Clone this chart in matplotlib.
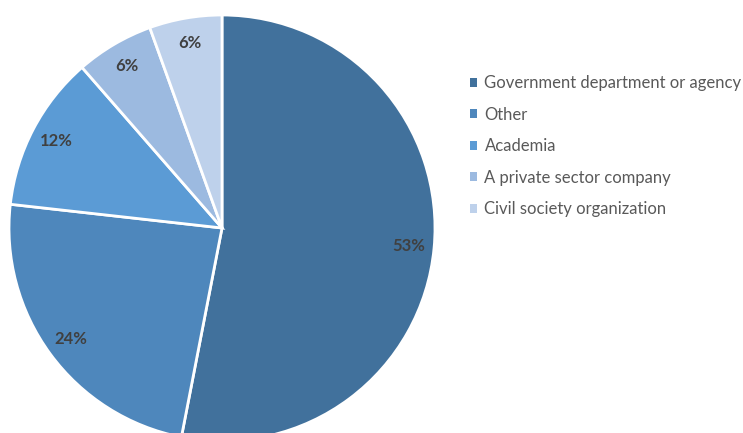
import matplotlib.pyplot as plt
from matplotlib.patches import Rectangle

categories = ["Government department or agency", "Other", "Academia",
              "A private sector company", "Civil society organization"]
values = [53.0, 23.7, 11.8, 5.9, 5.5]
colors = ["#41719C", "#4E87BC", "#5B9BD5", "#9CBAE0", "#BED1EB"]


def main():
    plt.rcParams['font.family'] = ['Lato', 'DejaVu Sans']
    fig = plt.figure(figsize=(7.43, 4.33), dpi=100)
    W, H = 743, 433
    cx, cy, r = 222, 228, 213
    ax = fig.add_axes([(cx - r) / W, (H - cy - r) / H, 2 * r / W, 2 * r / H])

    wedges, texts, autotexts = ax.pie(
        values, colors=colors, startangle=90, counterclock=False,
        autopct=lambda p: "{:.0f}%".format(p), pctdistance=0.88,
        wedgeprops=dict(edgecolor="white", linewidth=2),
        textprops=dict(color="#404040", fontsize=12, fontweight="bold"))
    for w in wedges:
        w.set_clip_on(False)
    ax.set_xlim(-1, 1)
    ax.set_ylim(-1, 1)
    ax.set_aspect("equal")
    ax.axis("off")

    handles = [Rectangle((0, 0), 1, 1, facecolor=c, edgecolor="none") for c in colors]
    fig.legend(handles, categories, loc="center left",
               bbox_to_anchor=(470 / W, (H - 146) / H), frameon=False,
               borderpad=0, borderaxespad=0,
               fontsize=12, labelcolor="#595959", handlelength=0.45,
               handleheight=0.45, handletextpad=0.42, labelspacing=0.93)
    fig.savefig("out.png", dpi=100)


if __name__ == '__main__':
    main()
